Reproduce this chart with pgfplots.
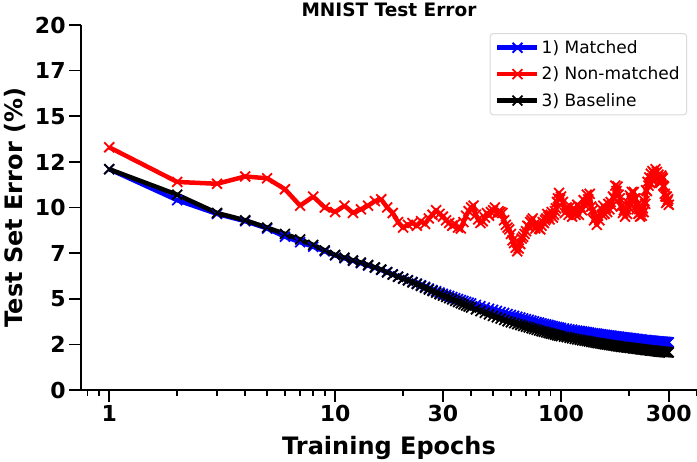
\documentclass[border=0pt]{standalone}
\usepackage{fontspec}
\setmainfont{DejaVu Sans}
\usepackage{pgfplots}
\usepackage{pgfplotstable}
\pgfplotsset{compat=1.18}

% Matched (m) and Baseline (b)
\pgfplotstableread{
ep m b
1 12.10 12.10
2 10.40 10.70
3 9.65 9.70
4 9.25 9.30
5 8.85 8.90
6 8.40 8.55
7 8.10 8.25
8 7.85 7.95
9 7.60 7.65
10 7.38 7.40
11 7.22 7.25
12 7.08 7.10
13 6.95 6.98
14 6.82 6.85
15 6.70 6.72
16 6.58 6.60
17 6.46 6.45
18 6.34 6.32
19 6.22 6.20
20 6.11 6.10
21 6.02 6.00
22 5.92 5.90
23 5.83 5.80
24 5.74 5.70
25 5.65 5.60
26 5.56 5.50
27 5.48 5.42
28 5.41 5.33
29 5.34 5.25
30 5.27 5.17
31 5.21 5.10
32 5.15 5.03
33 5.09 4.96
34 5.03 4.88
35 4.98 4.82
36 4.93 4.75
37 4.88 4.69
38 4.83 4.63
39 4.78 4.57
40 4.74 4.52
42 4.66 4.42
44 4.59 4.32
46 4.52 4.23
48 4.45 4.14
50 4.39 4.06
52 4.33 3.98
54 4.27 3.91
56 4.22 3.84
58 4.16 3.77
60 4.11 3.71
62 4.06 3.66
64 4.01 3.61
66 3.97 3.56
68 3.92 3.51
70 3.88 3.47
72 3.84 3.43
74 3.80 3.38
76 3.76 3.34
78 3.72 3.30
80 3.69 3.26
82 3.65 3.22
84 3.62 3.19
86 3.59 3.15
88 3.56 3.12
90 3.53 3.09
92 3.50 3.06
94 3.47 3.03
96 3.45 3.00
98 3.42 2.97
100 3.40 2.95
103 3.37 2.92
106 3.35 2.89
109 3.32 2.86
112 3.30 2.83
115 3.27 2.80
118 3.25 2.77
121 3.23 2.75
124 3.21 2.72
127 3.19 2.70
130 3.17 2.68
133 3.15 2.66
136 3.13 2.63
139 3.11 2.61
142 3.10 2.59
145 3.08 2.57
148 3.06 2.56
151 3.05 2.54
154 3.03 2.52
157 3.02 2.50
160 3.00 2.49
163 2.99 2.47
166 2.98 2.46
169 2.96 2.44
172 2.95 2.43
175 2.94 2.41
178 2.93 2.40
181 2.92 2.39
184 2.90 2.37
187 2.89 2.36
190 2.88 2.35
193 2.87 2.34
196 2.86 2.33
199 2.85 2.32
202 2.84 2.31
205 2.83 2.30
208 2.82 2.29
211 2.81 2.28
214 2.80 2.27
217 2.79 2.26
220 2.78 2.25
223 2.77 2.24
226 2.76 2.23
229 2.75 2.22
232 2.74 2.21
235 2.74 2.20
238 2.73 2.19
241 2.72 2.19
244 2.71 2.18
247 2.71 2.17
250 2.70 2.16
253 2.69 2.16
256 2.69 2.15
259 2.68 2.14
262 2.67 2.13
265 2.67 2.13
268 2.66 2.12
271 2.66 2.11
274 2.65 2.11
277 2.65 2.10
280 2.64 2.09
283 2.64 2.09
286 2.63 2.08
289 2.63 2.08
292 2.62 2.07
295 2.62 2.07
298 2.61 2.06
300 2.61 2.06
}\dataMB

% Non-matched (n)
\pgfplotstableread{
ep n
1 13.30
2 11.40
3 11.30
4 11.70
5 11.60
6 11.00
7 10.10
8 10.60
9 10.00
10 9.75
11 10.10
12 9.70
13 9.90
14 10.10
15 10.35
16 10.45
17 10.00
18 9.70
19 9.20
20 8.90
21 9.05
22 9.15
23 9.00
24 9.25
25 9.10
26 9.40
27 9.60
28 9.85
29 9.65
30 9.50
31 9.30
32 9.15
33 9.00
34 9.10
35 8.90
36 8.85
37 9.20
38 9.55
39 9.80
40 10.00
41 10.10
42 9.60
43 9.35
44 9.15
45 9.25
46 9.45
47 9.70
48 9.55
49 9.75
50 9.85
51 10.00
52 9.65
53 9.80
54 9.75
55 9.70
56 9.30
57 9.05
58 8.90
59 8.80
60 8.55
61 8.20
62 8.05
63 7.80
64 7.60
65 7.75
66 8.00
67 8.30
68 8.40
69 8.55
70 8.70
71 9.00
72 8.95
73 9.20
74 9.30
75 9.40
76 9.05
77 8.85
78 9.00
79 9.10
80 8.85
81 8.80
82 9.00
83 9.20
84 9.15
85 9.30
86 9.40
87 9.65
88 9.50
89 9.35
90 9.60
91 9.75
92 9.45
93 9.60
94 9.80
95 9.95
96 10.30
97 10.50
98 10.80
99 10.45
100 10.60
102 10.30
104 9.70
106 10.00
108 9.60
110 10.05
112 9.50
114 9.95
116 9.60
118 10.15
120 9.60
122 10.00
124 9.85
126 10.40
128 10.10
130 10.70
132 10.45
134 10.75
136 10.05
138 9.85
140 9.30
142 9.40
144 9.05
146 9.55
148 9.30
150 9.95
152 9.60
154 10.10
156 9.65
158 9.95
160 9.75
162 10.20
164 9.90
166 10.30
168 10.10
170 10.60
172 10.50
174 11.20
176 10.90
178 11.15
180 10.70
182 10.50
184 10.05
186 10.10
188 9.70
190 9.85
192 9.50
194 9.90
196 9.65
198 10.25
200 10.00
202 10.65
204 10.50
206 10.85
208 10.40
210 10.85
212 10.50
214 10.50
216 9.90
218 10.15
220 9.65
222 9.90
224 9.50
226 9.75
228 9.55
230 9.95
232 9.75
234 10.35
236 10.20
238 10.95
240 10.90
242 11.40
244 11.20
246 11.65
248 11.35
250 11.85
252 11.60
254 12.00
256 11.45
258 11.90
260 11.65
262 12.10
264 11.55
266 11.95
268 11.70
270 11.80
272 11.35
274 11.45
276 11.35
278 11.75
280 11.65
282 11.60
284 11.20
286 11.15
288 10.75
290 10.60
292 10.25
294 10.60
296 10.35
298 10.45
300 10.15
}\dataN

\begin{document}
\begin{tikzpicture}
\begin{axis}[
  scale only axis, width=616pt, height=365pt,
  xmode=log, xmin=0.75, xmax=400, ymin=0, ymax=20,
  axis x line=bottom, axis y line=left,
  axis line style={-, line width=1.6pt},
  xtick={1,10,30,100,300}, xticklabels={1,10,30,100,300},
  minor xtick={0.8,0.9,2,3,4,5,6,7,8,9,20,40,50,60,70,80,90,200,400},
  ytick={0,2.5,5,7.5,10,12.5,15,17.5,20}, yticklabels={0,2,5,7,10,12,15,17,20},
  tick align=outside, major tick length=12pt, minor tick length=6pt,
  every tick/.style={line width=1.6pt, black},
  ticklabel style={font=\bfseries\fontsize{22}{24}\selectfont},
  title={MNIST Test Error},
  title style={at={(axis description cs:0.5,1)}, anchor=base, yshift=2pt, font=\bfseries\fontsize{18.5}{20}\selectfont},
  xlabel={Training Epochs},
  xlabel style={at={(axis description cs:0.5,0)}, anchor=base, yshift=-65pt, font=\bfseries\fontsize{24}{26}\selectfont},
  ylabel={Test Set Error (\%)},
  ylabel style={at={(axis description cs:-0.107,0.5)}, anchor=center, rotate=0, font=\bfseries\fontsize{24}{26}\selectfont},
  legend style={at={(0.984,0.978)}, anchor=north east, draw=black!15, rounded corners=3pt, line width=1pt,
    font=\fontsize{17}{19}\selectfont, row sep=8pt, inner sep=5pt},
  legend cell align=left,
  legend image code/.code={\draw[mark repeat=2,mark phase=2] plot coordinates {(0pt,0pt)(20pt,0pt)(40pt,0pt)};},
  every axis plot/.append style={line width=4.5pt, line join=round, mark=x, mark size=7pt, mark options={line width=1.8pt, solid}},
]
\addplot[blue] table[x=ep, y=m] {\dataMB};
\addlegendentry{1) Matched}
\addplot[red] table[x=ep, y=n] {\dataN};
\addlegendentry{2) Non-matched}
\addplot[black] table[x=ep, y=b] {\dataMB};
\addlegendentry{3) Baseline}
\end{axis}
\pgfresetboundingbox
\path ([shift={(-81pt,-72pt)}]current axis.south west) rectangle ([shift={(0pt,25pt)}]current axis.north east);
\end{tikzpicture}
\end{document}
